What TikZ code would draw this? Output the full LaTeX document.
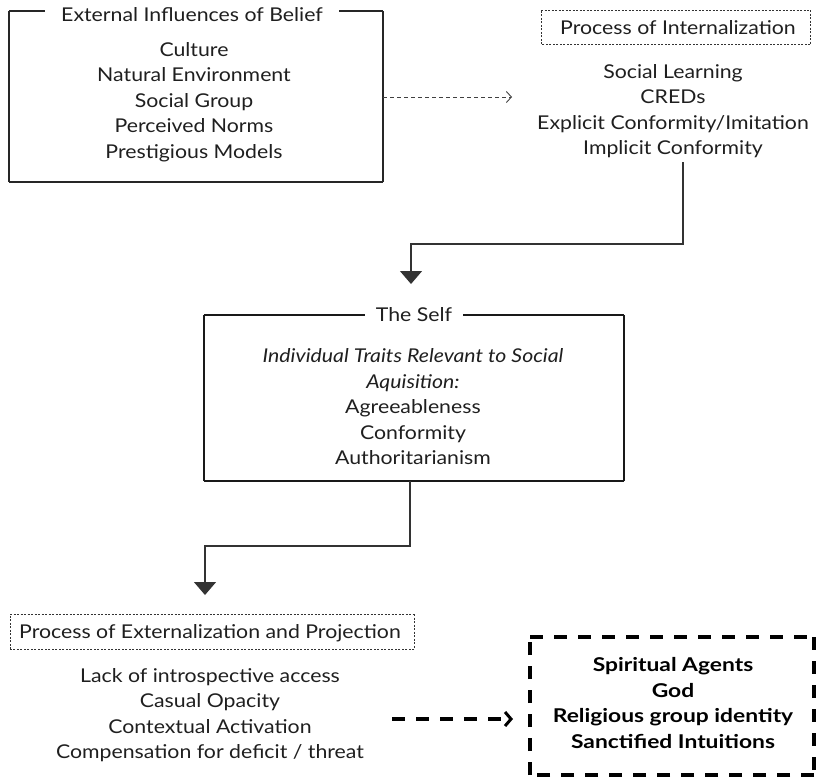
\documentclass[tikz,border=0pt]{standalone}
\usepackage{fontspec}
\setmainfont[FakeStretch=1.12]{Lato}
\newfontfamily\heavyfont[FakeStretch=1.2]{Lato}
\usetikzlibrary{arrows.meta,positioning}
\pgfdeclarelayer{edgelayer}
\pgfdeclarelayer{nodelayer}
\pgfsetlayers{edgelayer,nodelayer,main}
\tikzstyle{boxline}=[-,draw=black!85,line width=1.3]
\tikzstyle{selfline}=[-,draw=black!90,line width=2.2]
\tikzstyle{dotline}=[-,draw=black!80,line width=0.9,dash pattern=on 2pt off 1.5pt]
\tikzstyle{heavydash}=[-,draw=black,line width=4,dash pattern=on 13pt off 11pt]
\tikzstyle{downarrow}=[-{Triangle[width=22pt,length=13pt]},draw=black!80,line width=1.3]
\tikzstyle{thinarrow}=[-{Straight Barb[length=5pt,width=11pt]},draw=black!75,line width=0.9,dash pattern=on 4pt off 3pt]
\tikzstyle{thickarrow}=[-{Straight Barb[length=6pt,width=14pt,line width=3pt]},draw=black,line width=4,dash pattern=on 13pt off 11pt]
\tikzstyle{none}=[inner sep=0pt]
\tikzstyle{title}=[fill=white,inner ysep=4pt,inner xsep=11pt,text=black!88,font=\fontsize{19}{25.5}\selectfont]
\tikzstyle{list}=[inner sep=0pt,align=center,text=black!88,font=\fontsize{19}{25.5}\selectfont]

\begin{document}
\begin{tikzpicture}[x=1pt,y=-1pt]
	\useasboundingbox (0,0) rectangle (818,780);
	\begin{pgfonlayer}{nodelayer}
		% external influences
		\node [style=none] (ETL) at (9,11) {};
		\node [style=none] (ETR) at (383,11) {};
		\node [style=none] (EBR) at (383,182) {};
		\node [style=none] (EBL) at (9,182) {};
		\node [style=title,inner xsep=16pt] (extT) at (192,15) {External Influences of Belief};
		\node [style=list] (ext) at (194,102) {Culture\\Natural Environment\\Social Group\\Perceived Norms\\Prestigious Models};

		% internalization
		\node [style=none] (ITL) at (541,10) {};
		\node [style=none] (ITR) at (810,10) {};
		\node [style=none] (IBR) at (810,44) {};
		\node [style=none] (IBL) at (541,44) {};
		\node [style=list] (intT) at (678,28) {Process of Internalization};
		\node [style=list] (intern) at (673,111) {Social Learning\\CREDs\\Explicit Conformity/Imitation\\Implicit Conformity};

		% the self
		\node [style=none] (STL) at (204,315) {};
		\node [style=none] (STR) at (624,315) {};
		\node [style=none] (SBR) at (624,481) {};
		\node [style=none] (SBL) at (204,481) {};
		\node [style=title] (selfT) at (414,315) {The Self};
		\node [style=list] (self) at (413,407) {\textit{Individual Traits Relevant to Social}\\\textit{Aquisition:}\\Agreeableness\\Conformity\\Authoritarianism};

		% externalization
		\node [style=none] (XTL) at (10,614) {};
		\node [style=none] (XTR) at (414,614) {};
		\node [style=none] (XBR) at (414,649) {};
		\node [style=none] (XBL) at (10,649) {};
		\node [style=list] (extnT) at (210,633) {Process of Externalization and Projection};
		\node [style=list] (extn) at (210,715) {Lack of introspective access\\Casual Opacity\\Contextual Activation\\Compensation for deficit / threat};

		% religious outcomes
		\node [style=none] (RTL) at (530,637) {};
		\node [style=none] (RTR) at (814,637) {};
		\node [style=none] (RBR) at (814,775) {};
		\node [style=none] (RBL) at (530,775) {};
		\node [style=list,font=\heavyfont\bfseries\fontsize{19}{25.5}\selectfont,text=black] (rel) at (673,703) {Spiritual Agents\\God\\Religious group identity\\Sanctified Intuitions};

		% connector points
		\node [style=none] (outE) at (383,97) {};
		\node [style=none] (inI) at (512,97) {};
		\node [style=none] (outI) at (683,162) {};
		\node [style=none] (bendI) at (411,244) {};
		\node [style=none] (inS) at (411,284) {};
		\node [style=none] (outS) at (410,481) {};
		\node [style=none] (bendS) at (205,546) {};
		\node [style=none] (inX) at (205,595) {};
		\node [style=none] (outX) at (392,719) {};
		\node [style=none] (inR) at (513,719) {};
	\end{pgfonlayer}
	\begin{pgfonlayer}{edgelayer}
		\draw [style=boxline] (ETL.center) to (ETR.center);
		\draw [style=boxline] (ETR.center) to (EBR.center);
		\draw [style=boxline] (EBR.center) to (EBL.center);
		\draw [style=boxline] (EBL.center) to (ETL.center);
		\draw [style=dotline] (ITL.center) to (ITR.center);
		\draw [style=dotline] (ITR.center) to (IBR.center);
		\draw [style=dotline] (IBR.center) to (IBL.center);
		\draw [style=dotline] (IBL.center) to (ITL.center);
		\draw [style=selfline] (STL.center) to (STR.center);
		\draw [style=selfline] (STR.center) to (SBR.center);
		\draw [style=selfline] (SBR.center) to (SBL.center);
		\draw [style=selfline] (SBL.center) to (STL.center);
		\draw [style=dotline] (XTL.center) to (XTR.center);
		\draw [style=dotline] (XTR.center) to (XBR.center);
		\draw [style=dotline] (XBR.center) to (XBL.center);
		\draw [style=dotline] (XBL.center) to (XTL.center);
		\draw [style=heavydash] (RTL.center) to (RTR.center);
		\draw [style=heavydash] (RTR.center) to (RBR.center);
		\draw [style=heavydash] (RBR.center) to (RBL.center);
		\draw [style=heavydash] (RBL.center) to (RTL.center);
		\draw [style=thinarrow] (outE.center) to (inI.center);
		\draw [style=downarrow] (outI.center) |- (bendI.center) -- (inS.center);
		\draw [style=downarrow] (outS.center) |- (bendS.center) -- (inX.center);
		\draw [style=thickarrow] (outX.center) to (inR.center);
	\end{pgfonlayer}
\end{tikzpicture}
\end{document}
